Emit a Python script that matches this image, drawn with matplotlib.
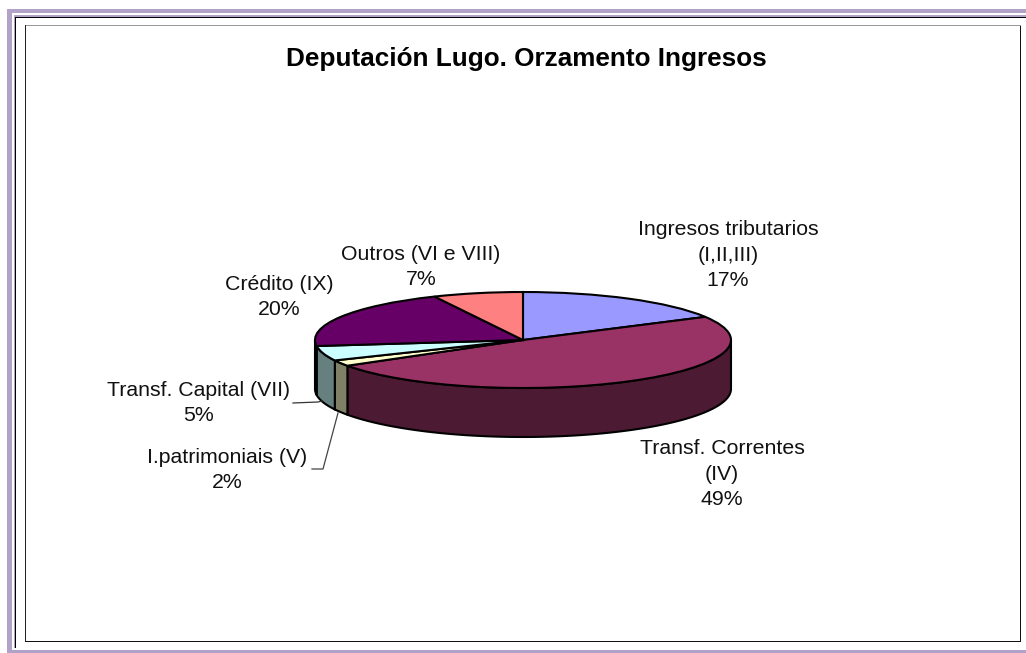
"""
Deputación Lugo. Orzamento Ingresos: tarta en pseudo-3D.
"""
import numpy as np
import matplotlib
matplotlib.use('Agg')
import matplotlib.pyplot as plt
from matplotlib.patches import Polygon, Rectangle

plt.rcParams['font.family'] = ['Liberation Sans', 'DejaVu Sans']

W, H = 1026, 653

title = 'Deputación Lugo. Orzamento Ingresos'
values = [17, 49, 2, 5, 20, 7]
labels = ['Ingresos tributarios\n(I,II,III)\n17%', 'Transf. Correntes\n(IV)\n49%',
          'I.patrimoniais (V)\n2%', 'Transf. Capital (VII)\n5%',
          'Crédito (IX)\n20%', 'Outros (VI e VIII)\n7%']
label_xy = [(728, 255), (722, 474), (227, 470), (199, 403), (279, 297), (421, 267)]
top_colors = ['#9999FF', '#993366', '#FFFFCC', '#CCFFFF', '#660066', '#FF8080']
side_colors = ['#4D4D80', '#4D1A33', '#808066', '#668080', '#330033', '#804040']

# geometria de la tarta en pixeles
CX, CY, RX, RY, DEPTH = 523, 340, 208, 48, 49
LAVENDER = '#B3A2C7'


def px_rect(x0, y0, x1, y1, color):
    # rectangulo en coordenadas de imagen (y hacia abajo)
    fig.add_artist(Rectangle((x0 / W, 1 - y1 / H), (x1 - x0) / W, (y1 - y0) / H,
                             transform=fig.transFigure, fc=color, ec='none'))


fig = plt.figure(figsize=(W / 100, H / 100), dpi=100)

# marco exterior lavanda y negro
px_rect(7, 9, 12, 653, LAVENDER)
px_rect(7, 9, 1026, 13, LAVENDER)
px_rect(12, 650, 1026, 653, LAVENDER)
px_rect(14, 15, 15, 648, LAVENDER)
px_rect(14, 15, 1026, 17, LAVENDER)
px_rect(15, 17, 16, 648, 'black')
px_rect(15, 17, 1026, 18, 'black')

# caja del grafico
px_rect(25, 25, 1021, 26, '#999999')
px_rect(25, 25, 26, 642, '#222222')
px_rect(25, 641, 1021, 642, '#111111')
px_rect(1020, 26, 1021, 642, '#111111')

# ejes unidad: el circulo unidad se aplasta a la elipse superior
ax = fig.add_axes([0, 0, 1, 1])
wedges, _ = ax.pie(values, colors=top_colors, startangle=90, counterclock=False, radius=1,
                   wedgeprops=dict(edgecolor='black', linewidth=1.5, zorder=3))
ax.set_aspect('auto')
ax.set_xlim((0 - CX) / RX, (W - CX) / RX)
ax.set_ylim((CY - H) / RY, CY / RY)
ax.axis('off')

# pared lateral: solo la mitad frontal de cada porcion
depth_u = DEPTH / RY
edges = 90 - 360 * np.cumsum([0] + values) / sum(values)
for a0, a1, col in zip(edges[:-1], edges[1:], side_colors):
    lo, hi = max(a1, -180), min(a0, 0)
    if lo >= hi:
        continue
    t = np.deg2rad(np.linspace(hi, lo, 80))
    xs, ys = np.cos(t), np.sin(t)
    pts = np.r_[np.c_[xs, ys], np.c_[xs, ys - depth_u][::-1]]
    ax.add_patch(Polygon(pts, closed=True, fc=col, ec='black', lw=1.5, zorder=2))

# textos
fig.text(526 / W, 1 - 59 / H, title, ha='center', va='center', fontsize=18.8, fontweight='bold')
for (x, y), txt in zip(label_xy, labels):
    fig.text(x / W, 1 - y / H, txt, ha='center', va='center', fontsize=15.3, linespacing=1.43,
             color='#111111')

# lineas guia
ax2 = fig.add_axes([0, 0, 1, 1], facecolor='none')
ax2.set_xlim(0, W)
ax2.set_ylim(H, 0)
ax2.axis('off')
ax2.plot([293, 318, 322], [403, 402, 401], color='#333333', lw=0.9)
ax2.plot([312, 323, 338], [469, 469, 413], color='#444444', lw=0.9)

fig.savefig('out.png', dpi=100)
